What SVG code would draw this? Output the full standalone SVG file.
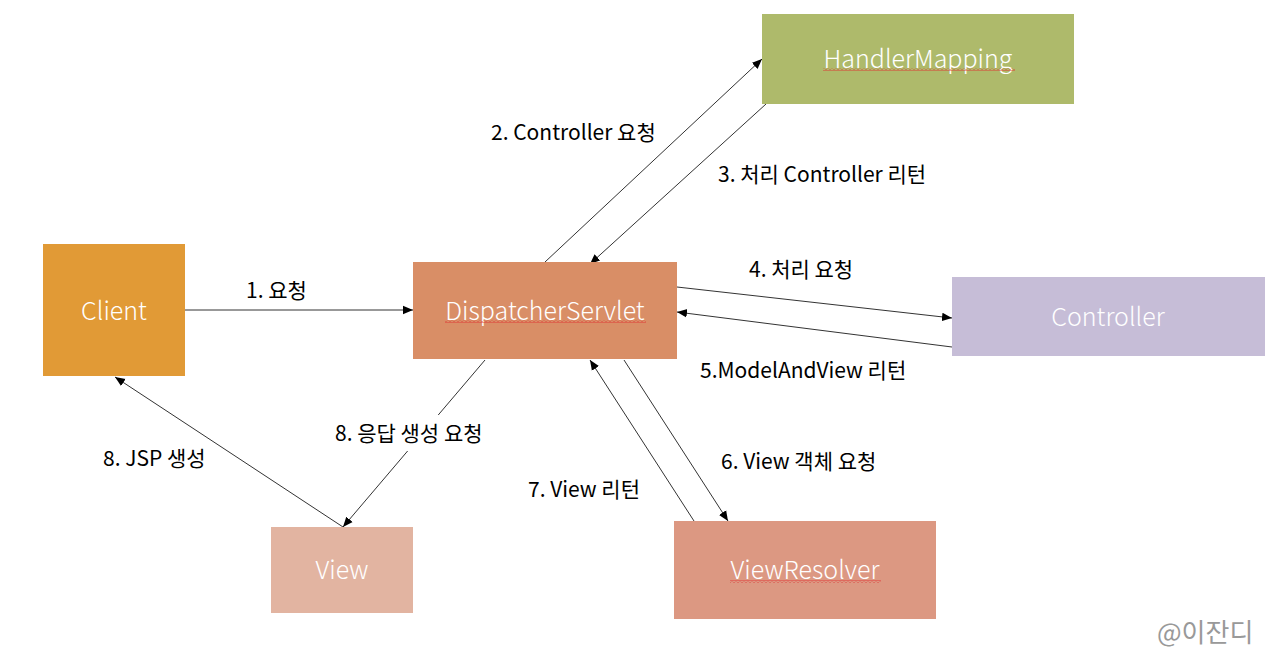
<svg xmlns="http://www.w3.org/2000/svg" width="1280" height="661" viewBox="0 0 1280 661">
<defs>
<marker id="ah" viewBox="0 0 10 10" refX="10" refY="5" markerWidth="10" markerHeight="10" markerUnits="userSpaceOnUse" orient="auto">
<path d="M0,0.8 L10,5 L0,9.2 Z" fill="#000"/>
</marker>
<pattern id="wave" x="0" y="0" width="4" height="3" patternUnits="userSpaceOnUse">
<polyline points="0,2.5 2,0.5 4,2.5" fill="none" stroke="#e03030" stroke-width="0.9"/>
</pattern>
</defs>
<style>
.node text{font-family:"Noto Sans CJK KR","Noto Sans",sans-serif;font-weight:300;font-size:25px;fill:#fff;text-anchor:middle;dominant-baseline:central}
.lbl{font-family:"Noto Sans CJK KR","Noto Sans",sans-serif;font-size:21px;fill:#000}
.conn line{stroke:#333;stroke-width:1;marker-end:url(#ah)}
.wv{fill:url(#wave)}
</style>
<rect width="1280" height="661" fill="#fff"/>
<g class="conn">
<line x1="185" y1="310" x2="413" y2="310"/>
<line x1="545" y1="262" x2="762" y2="59"/>
<line x1="766" y1="104" x2="590" y2="264"/>
<line x1="677" y1="287" x2="952" y2="318"/>
<line x1="952" y1="347" x2="677" y2="312"/>
<line x1="624" y1="360" x2="728" y2="521"/>
<line x1="694" y1="521" x2="590" y2="360"/>
<line x1="485" y1="360" x2="343" y2="527"/>
<line x1="343" y1="527" x2="115" y2="377"/>
</g>
<g id="client" class="node">
<rect x="43" y="244" width="142" height="132" fill="#E19A36"/>
<text x="114" y="309">Client</text>
</g>
<g id="dispatcher" class="node">
<rect x="413" y="262" width="264" height="97" fill="#D98E66"/>
<text x="545" y="309">DispatcherServlet</text>
<rect class="wv" x="445" y="320" width="201" height="3"/>
</g>
<g id="handlermapping" class="node">
<rect x="762" y="14" width="312" height="90" fill="#AEBA6B"/>
<text x="918" y="57">HandlerMapping</text>
<rect class="wv" x="823" y="68" width="192" height="3"/>
</g>
<g id="controller" class="node">
<rect x="952" y="277" width="313" height="79" fill="#C6BDD7"/>
<text x="1108" y="315">Controller</text>
</g>
<g id="view" class="node">
<rect x="271" y="527" width="142" height="86" fill="#E2B4A1"/>
<text x="342" y="568">View</text>
</g>
<g id="viewresolver" class="node">
<rect x="674" y="521" width="262" height="98" fill="#DC9882"/>
<text x="805" y="568">ViewResolver</text>
<rect class="wv" x="730" y="580" width="151" height="3"/>
</g>
<g id="labels">
<text class="lbl" x="246" y="298">1. 요청</text>
<text class="lbl" x="491" y="140">2. Controller 요청</text>
<text class="lbl" x="718" y="182">3. 처리 Controller 리턴</text>
<text class="lbl" x="749" y="277">4. 처리 요청</text>
<text class="lbl" x="700" y="378">5.ModelAndView 리턴</text>
<text class="lbl" x="721" y="469">6. View 객체 요청</text>
<text class="lbl" x="528" y="497">7. View 리턴</text>
<rect x="332" y="415" width="172" height="36" fill="#fff"/>
<text class="lbl" x="335" y="441">8. 응답 생성 요청</text>
<text class="lbl" x="103" y="466">8. JSP 생성</text>
<text x="1157" y="642" font-family="Noto Sans CJK KR, sans-serif" font-size="26" fill="#999">@이잔디</text>
</g>
</svg>
